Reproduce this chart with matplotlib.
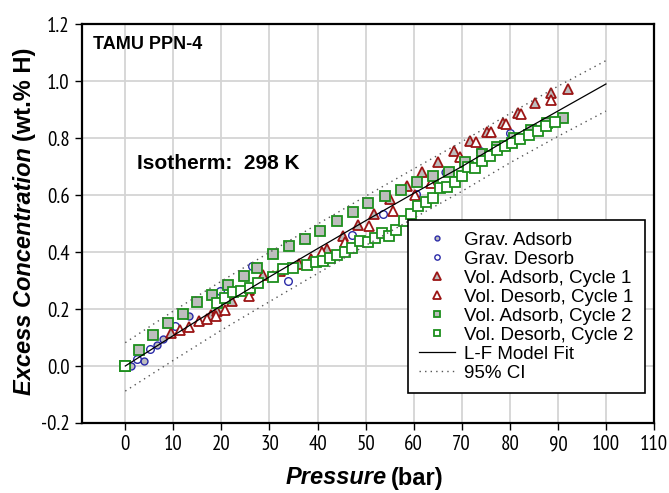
import matplotlib
matplotlib.use("Agg")
import matplotlib.pyplot as plt

plt.rcParams['font.family'] = ['Liberation Sans', 'DejaVu Sans']

# --- data (pressure in bar, excess conc. in wt.% H) ---
grav_ads_p = [1.2, 3.9, 6.5, 7.9, 13.2, 66.5]
grav_ads_c = [0.000, 0.018, 0.074, 0.094, 0.174, 0.682]

grav_des_p = [2.4, 5.1, 10.4, 19.7, 26.3, 33.8, 40.4, 47.1, 53.6, 60.4, 73.8, 80.0]
grav_des_c = [0.025, 0.060, 0.139, 0.262, 0.351, 0.297, 0.374, 0.459, 0.534, 0.604, 0.754, 0.819]

vol_ads1_p = [9.6, 17.8, 19.1, 22.3, 25.8, 28.7, 32.2, 36.2, 38.6, 42.0, 45.2, 48.5, 51.8,
              55.1, 58.6, 61.8, 65.1, 68.4, 71.8, 75.2, 78.6, 81.8, 85.3, 88.6, 92.1]
vol_ads1_c = [0.115, 0.179, 0.194, 0.228, 0.268, 0.319, 0.334, 0.357, 0.374, 0.411, 0.456, 0.495, 0.532,
              0.585, 0.632, 0.682, 0.716, 0.755, 0.790, 0.820, 0.854, 0.889, 0.922, 0.957, 0.971]

vol_des1_p = [11.3, 13.3, 15.3, 17.1, 18.8, 20.7, 25.7, 30.8, 40.9, 45.7, 50.8, 55.6, 60.3,
              63.6, 69.7, 73.0, 76.1, 79.3, 82.3, 88.6]
vol_des1_c = [0.126, 0.138, 0.158, 0.166, 0.175, 0.198, 0.245, 0.316, 0.401, 0.435, 0.491, 0.544, 0.602,
              0.641, 0.734, 0.787, 0.820, 0.849, 0.884, 0.933]

vol_ads2_p = [0.0, 2.9, 5.8, 8.8, 12.0, 15.0, 18.1, 21.3, 24.6, 27.5, 30.8, 34.0, 37.4, 40.6, 44.0,
              47.4, 50.6, 54.0, 57.4, 60.6, 64.1, 67.4, 70.7, 74.2, 77.4, 80.8, 84.4, 87.7, 91.1]
vol_ads2_c = [0.000, 0.056, 0.108, 0.152, 0.181, 0.225, 0.248, 0.285, 0.317, 0.343, 0.392, 0.422, 0.446, 0.475, 0.509,
              0.540, 0.571, 0.598, 0.619, 0.646, 0.666, 0.681, 0.715, 0.743, 0.769, 0.800, 0.830, 0.852, 0.869]

vol_des2_p = [0.0, 19.1, 20.7, 22.4, 24.0, 25.9, 27.6, 30.8, 32.9, 34.8, 37.9, 39.6, 41.1, 42.6, 44.1,
              45.7, 47.2, 48.8, 50.4, 52.0, 53.5, 54.9, 56.4, 58.0, 59.5, 61.0, 62.5, 64.0, 65.5,
              67.0, 68.5, 70.0, 71.4, 72.8, 74.3, 75.9, 77.4, 78.9, 80.4, 82.2, 83.9, 85.8, 87.6, 89.3]
vol_des2_c = [0.000, 0.222, 0.237, 0.259, 0.263, 0.275, 0.292, 0.313, 0.340, 0.343, 0.354, 0.364, 0.369, 0.378, 0.389,
              0.399, 0.413, 0.440, 0.434, 0.448, 0.466, 0.457, 0.479, 0.510, 0.533, 0.562, 0.577, 0.591, 0.626,
              0.629, 0.647, 0.667, 0.699, 0.694, 0.719, 0.738, 0.760, 0.774, 0.784, 0.798, 0.811, 0.826, 0.842, 0.855]

fit_p = [0, 10, 20, 30, 40, 50, 60, 70, 80, 90, 100]
fit_c = [0.0, 0.107, 0.212, 0.313, 0.412, 0.510, 0.606, 0.700, 0.800, 0.895, 0.990]
ci_up = [0.082, 0.193, 0.298, 0.399, 0.498, 0.596, 0.692, 0.787, 0.886, 0.982, 1.072]
ci_lo = [-0.088, 0.020, 0.126, 0.226, 0.325, 0.423, 0.519, 0.613, 0.713, 0.806, 0.895]

xticks = list(range(0, 111, 10))
yticks = [-0.2, 0.0, 0.2, 0.4, 0.6, 0.8, 1.0, 1.2]

blue = '#2b2ba8'
red = '#9b1515'
green = '#1d8f1d'
grey = '#bdbdbd'
narrow = ['Liberation Sans Narrow', 'PT Sans Narrow', 'Liberation Sans']

fig = plt.figure(figsize=(6.69, 4.93), dpi=100)
ax = fig.add_axes([0.1226, 0.142, 0.855, 0.809])

ax.plot(grav_ads_p, grav_ads_c, 'o', ms=5, mfc=grey, mec=blue, mew=1.0, ls='none', label='Grav. Adsorb')
ax.plot(grav_des_p, grav_des_c, 'o', ms=5.5, mfc='none', mec=blue, mew=1.0, ls='none', label='Grav. Desorb')
ax.plot(vol_ads1_p, vol_ads1_c, '^', ms=7.5, mfc=grey, mec=red, mew=1.3, ls='none', label='Vol. Adsorb, Cycle 1')
ax.plot(vol_des1_p, vol_des1_c, '^', ms=7.5, mfc='white', mec=red, mew=1.3, ls='none', label='Vol. Desorb, Cycle 1')
ax.plot(vol_ads2_p, vol_ads2_c, 's', ms=6.5, mfc=grey, mec=green, mew=1.3, ls='none', label='Vol. Adsorb, Cycle 2')
ax.plot(vol_des2_p, vol_des2_c, 's', ms=6.5, mfc='white', mec=green, mew=1.3, ls='none', label='Vol. Desorb, Cycle 2')
ax.plot(fit_p, fit_c, '-', color='black', lw=0.9, label='L-F Model Fit')
ax.plot(fit_p, ci_up, color='#555555', lw=1.0, ls=(0, (1, 3)), label='95% CI')
ax.plot(fit_p, ci_lo, color='#555555', lw=1.0, ls=(0, (1, 3)))

ax.set_xlim(-9, 110)
ax.set_ylim(-0.2, 1.2)
ax.set_xticks(xticks)
ax.set_yticks(yticks)
ax.set_yticklabels(['%.1f' % v for v in yticks])
ax.grid(True, color='#d4d4d4', lw=1.3)
ax.set_axisbelow(True)
for s in ax.spines.values():
    s.set_linewidth(1.6)
ax.tick_params(direction='out', length=5, width=1, labelsize=15, pad=4)
for lab in ax.get_xticklabels() + ax.get_yticklabels():
    lab.set_family(narrow)

ax.text(0.019, 0.95, 'TAMU PPN-4', transform=ax.transAxes, fontsize=13, fontweight='bold',
        ha='left', va='center')
ax.text(2.4, 0.712, 'Isotherm:  298 K', fontsize=15, fontweight='bold', ha='left', va='center')

leg = ax.legend(loc='lower right', bbox_to_anchor=(0.984, 0.075), fontsize=13.5, frameon=True,
                fancybox=False, framealpha=1, edgecolor='black', markerscale=0.7,
                handlelength=1.9, handletextpad=0.5, labelspacing=0.1, borderpad=0.6,
                borderaxespad=0)
leg.get_frame().set_linewidth(1.2)

# axis labels with mixed bold / bold-italic
fig.text(387 / 669, 1 - 478 / 493, 'Pressure', fontsize=17, fontweight='bold', fontstyle='italic',
         ha='right', va='center')
fig.text(391 / 669, 1 - 478 / 493, '(bar)', fontsize=17, fontweight='bold', ha='left', va='center')

t1 = fig.text(25 / 669, 1 - 395 / 493, 'Excess Concentration', fontsize=17, fontweight='bold',
              fontstyle='italic', rotation=90, ha='center', va='bottom')
fig.canvas.draw()
bb = t1.get_window_extent()
fig.text(25 / 669, (bb.y1 + 6) / fig.bbox.height, '(wt.% H)', fontsize=17, fontweight='bold',
         rotation=90, ha='center', va='bottom')

fig.savefig('out.png', dpi=100)
